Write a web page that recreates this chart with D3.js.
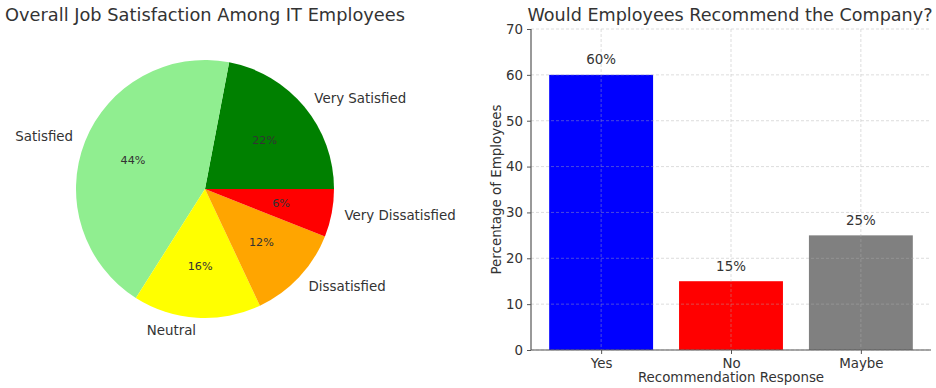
<!DOCTYPE html>
<html><head><meta charset="utf-8">
<script src="https://cdn.jsdelivr.net/npm/d3@7"></script>
<style>body{margin:0;background:#fff;font-family:"DejaVu Sans",sans-serif;}</style>
</head><body><svg id="c" width="936" height="388"></svg>
<script>
const pieLabels = ["Very Satisfied","Satisfied","Neutral","Dissatisfied","Very Dissatisfied"];
const pieValues = [22,44,16,12,6];
const pieColors = ["green","lightgreen","yellow","orange","red"];
const barCats = ["Yes","No","Maybe"];
const barValues = [60,15,25];
const barColors = ["blue","red","gray"];
const yTicks = [0,10,20,30,40,50,60,70];

const svg = d3.select("#c");
const txt = "#333";

// Pie
const cx=205, cy=189, R=129;
svg.append("text").attr("x",205).attr("y",21).attr("text-anchor","middle")
  .attr("font-size",17.8).attr("fill",txt).text("Overall Job Satisfaction Among IT Employees");
const pie = d3.pie().sort(null).startAngle(Math.PI/2).endAngle(Math.PI/2-2*Math.PI);
const arcs = pie(pieValues);
const arc = d3.arc().innerRadius(0).outerRadius(R);
const g = svg.append("g").attr("transform",`translate(${cx},${cy})`);
g.selectAll("path").data(arcs).join("path").attr("d",arc).attr("fill",(d,i)=>pieColors[i]);
arcs.forEach((d,i)=>{
  const a=(d.startAngle+d.endAngle)/2;
  const x=Math.sin(a), y=-Math.cos(a);
  g.append("text").attr("x",x*R*1.1).attr("y",y*R*1.1).attr("dy","0.35em")
   .attr("text-anchor",x>0?"start":"end").attr("font-size",13.4).attr("fill",txt).text(pieLabels[i]);
  g.append("text").attr("x",x*R*0.6).attr("y",y*R*0.6).attr("dy","0.35em")
   .attr("text-anchor","middle").attr("font-size",11.2).attr("fill",txt).text(pieValues[i]+"%");
});

// Bar
const L=531, Rt=931, T=29, B=350;
const xl = d3.scaleLinear().domain([-0.54,2.54]).range([L,Rt]);
const y = d3.scaleLinear().domain([0,70]).range([B,T]);
svg.append("text").attr("x",730).attr("y",21).attr("text-anchor","middle")
  .attr("font-size",17.6).attr("fill",txt).text("Would Employees Recommend the Company?");
const bw = xl(0.4)-xl(0);
svg.selectAll("rect.bar").data(barValues).join("rect").attr("class","bar")
  .attr("x",(d,i)=>xl(i)-bw).attr("width",bw*2).attr("y",d=>y(d)).attr("height",d=>B-y(d))
  .attr("fill",(d,i)=>barColors[i]);
// grid
const grid = svg.append("g").attr("stroke","#b0b0b0").attr("stroke-width",0.6).attr("stroke-dasharray","3,2").attr("opacity",0.7);
yTicks.forEach(t=>grid.append("line").attr("x1",L).attr("x2",Rt).attr("y1",y(t)).attr("y2",y(t)));
barCats.forEach((c,i)=>grid.append("line").attr("x1",xl(i)).attr("x2",xl(i)).attr("y1",T).attr("y2",B));
// axes
const ya = svg.append("g").attr("transform",`translate(${L},0)`).call(d3.axisLeft(y).tickValues(yTicks).tickSize(4).tickPadding(4));
ya.select(".domain").remove();
ya.selectAll("line").attr("stroke","#555");
ya.selectAll("text").attr("font-size",13.4).attr("fill",txt).attr("font-family","DejaVu Sans");
const xa = svg.append("g").attr("transform",`translate(0,${B})`).call(d3.axisBottom(xl).tickValues([0,1,2]).tickFormat(i=>barCats[i]).tickSize(4).tickPadding(4));
xa.select(".domain").remove();
xa.selectAll("line").attr("stroke","#555");
xa.selectAll("text").attr("font-size",13.4).attr("fill",txt).attr("font-family","DejaVu Sans");
svg.append("line").attr("x1",L).attr("x2",L).attr("y1",T).attr("y2",B).attr("stroke","#555").attr("stroke-width",1.2);
svg.append("line").attr("x1",L).attr("x2",Rt).attr("y1",B).attr("y2",B).attr("stroke","#555").attr("stroke-width",1.2);
svg.selectAll("text.val").data(barValues).join("text").attr("class","val")
  .attr("x",(d,i)=>xl(i)).attr("y",d=>y(d+1)-6).attr("text-anchor","middle")
  .attr("font-size",13.4).attr("fill",txt).text(d=>d+"%");
svg.append("text").attr("x",731).attr("y",382).attr("text-anchor","middle").attr("font-size",13.4).attr("fill",txt).text("Recommendation Response");
svg.append("text").attr("transform",`translate(501,${(T+B)/2}) rotate(-90)`).attr("text-anchor","middle")
  .attr("font-size",13.4).attr("fill",txt).text("Percentage of Employees");
</script></body></html>
